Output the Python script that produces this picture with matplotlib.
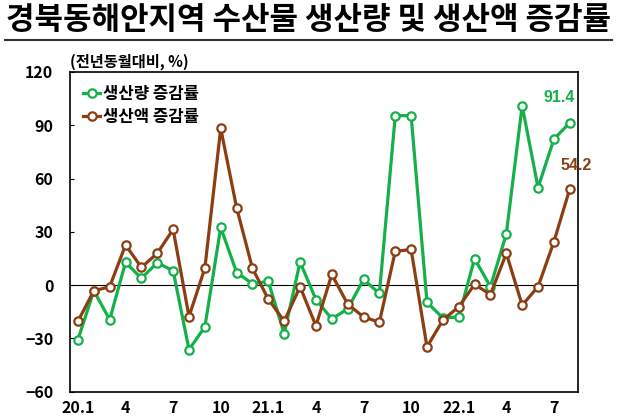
import numpy as np
import matplotlib
matplotlib.use("Agg")
import matplotlib.pyplot as plt

plt.rcParams['font.family'] = ['Noto Sans CJK KR', 'DejaVu Sans']

# 20.1 ~ 22.8 월별 전년동월대비 증감률(%)
months = ['20.1', '2', '3', '4', '5', '6', '7', '8', '9', '10', '11', '12',
          '21.1', '2', '3', '4', '5', '6', '7', '8', '9', '10', '11', '12',
          '22.1', '2', '3', '4', '5', '6', '7', '8']
volume = [-30.7, -3.2, -19.4, 12.8, 3.9, 12.6, 8.1, -36.3, -23.5, 32.5, 7.1, 0.8,
          2.1, -27.3, 13.0, -8.1, -19.0, -13.4, 3.2, -4.7, 95.4, 95.4, -9.6, -18.5,
          -17.9, 14.9, -0.9, 28.8, 101.0, 54.9, 82.2, 91.4]
value = [-20.3, -3.2, -0.9, 22.6, 10.0, 17.9, 31.4, -17.7, 9.6, 88.2, 43.6, 9.4,
         -7.9, -20.3, -0.9, -22.9, 6.0, -10.7, -17.9, -20.9, 19.0, 20.1, -34.8, -19.7,
         -12.2, 0.4, -5.3, 17.9, -11.3, -0.9, 24.4, 54.2]
tick_pos = [0, 3, 6, 9, 12, 15, 18, 21, 24, 27, 30]
tick_lab = ['20.1', '4', '7', '10', '21.1', '4', '7', '10', '22.1', '4', '7']

green = '#14b04a'
brown = '#8b3e12'

fig = plt.figure(figsize=(6.18, 4.16), dpi=100)
ax = fig.add_axes([0.1133, 0.0584, 0.8215, 0.7686])

x = np.arange(len(months))
ax.plot(x, volume, color=green, lw=2.3, marker='o', ms=6, mfc='white', mec=green, mew=1.6,
        label='생산량 증감률', zorder=3)
ax.plot(x, value, color=brown, lw=2.3, marker='o', ms=6, mfc='white', mec=brown, mew=1.6,
        label='생산액 증감률', zorder=4)
ax.axhline(0, color='black', lw=0.8, zorder=2)

ax.set_xlim(-0.5, 31.5)
ax.set_ylim(-60, 120)
ax.set_yticks(range(-60, 121, 30))
ax.set_yticklabels(['\u221260', '\u221230', '0', '30', '60', '90', '120'])
ax.set_xticks(tick_pos)
ax.set_xticklabels(tick_lab)
ax.tick_params(axis='both', labelsize=11.5, length=0, pad=6)
ax.tick_params(axis='y', direction='in', length=3, pad=12)
for lbl in ax.get_xticklabels() + ax.get_yticklabels():
    lbl.set_fontweight('bold')
for sp in ax.spines.values():
    sp.set_linewidth(1.2)

# 마지막 값 표시
ax.text(31.3, volume[-1] + 14, '91.4', color=green, fontsize=11.5, fontweight='bold',
        ha='right', va='center', family=['Liberation Sans', 'DejaVu Sans'])
ax.text(32.4, value[-1] + 13, '54.2', color=brown, fontsize=11.5, fontweight='bold',
        ha='right', va='center', family=['Liberation Sans', 'DejaVu Sans'], clip_on=False)

leg = ax.legend(loc='upper left', frameon=False, handlelength=1.0, handletextpad=0.15,
                labelspacing=0.3, borderaxespad=0.3, borderpad=0.5,
                prop={'size': 12, 'weight': 'bold'})

fig.text(0.1133, 0.851, '(전년동월대비, %)', fontsize=11, fontweight='bold', va='center')
fig.text(0.5, 0.952, '경북동해안지역 수산물 생산량 및 생산액 증감률', fontsize=22.3,
         fontweight='black', ha='center', va='center')
fig.add_artist(plt.Line2D([0.008, 0.99], [0.903, 0.903], color='#333333', lw=1.5))

fig.savefig('out.png', dpi=100)
